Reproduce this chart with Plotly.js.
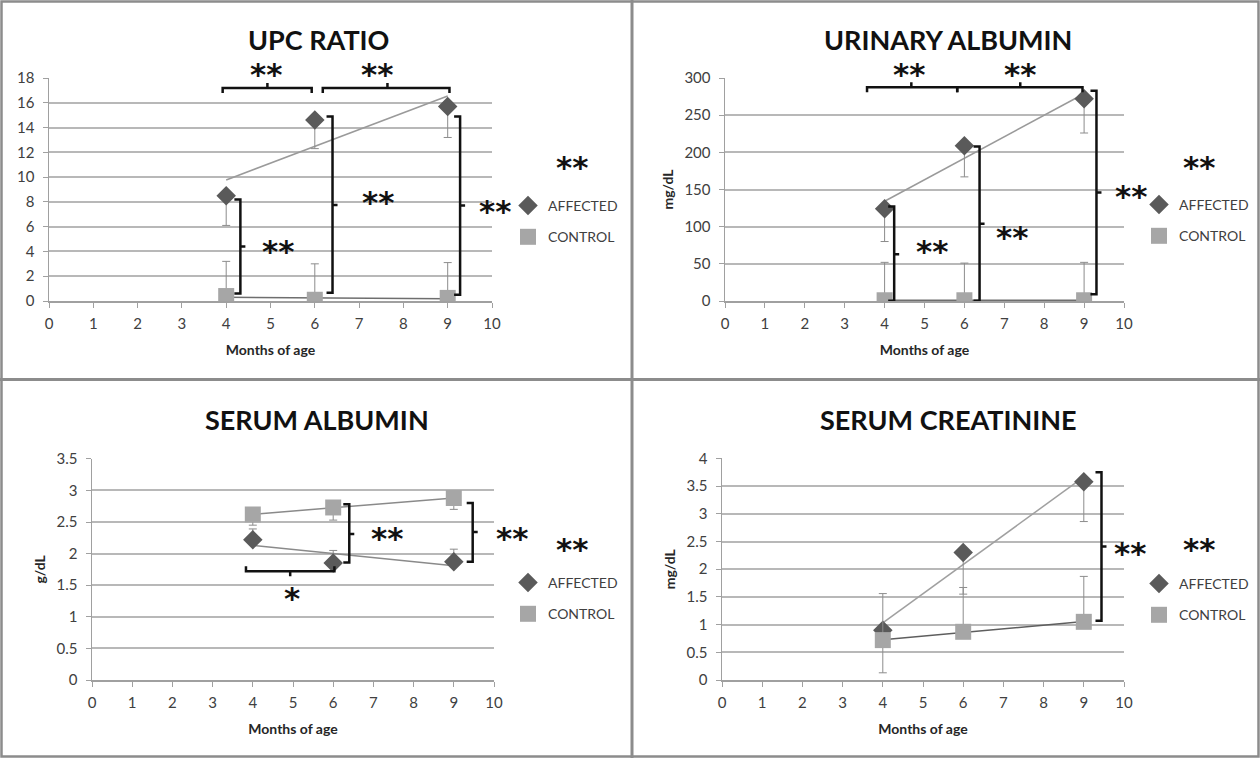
<!DOCTYPE html>
<html><head><meta charset="utf-8">
<script src="https://cdn.plot.ly/plotly-3.0.1.min.js"></script>
<style>html,body{margin:0;padding:0;background:#fff;} #chart{width:1260px;height:758px;}</style>
</head><body><div id="chart"></div>
<script>
// ---------------- DATA ----------------
const months = [4, 6, 9];
const xTicks = [0, 1, 2, 3, 4, 5, 6, 7, 8, 9, 10];
const seriesNames = ['AFFECTED', 'CONTROL'];
const panelTitles = ['UPC RATIO', 'URINARY ALBUMIN', 'SERUM ALBUMIN', 'SERUM CREATININE'];
const yTitles = ['', 'mg/dL', 'g/dL', 'mg/dL'];
const xTitle = 'Months of age';

const upcAffected = [8.5, 14.6, 15.7];
const upcAffectedErrMinus = [2.4, 2.3, 2.5];
const upcControl = [0.4, 0.1, 0.25];
const upcControlErrPlus = [2.8, 2.9, 2.85];

const ualbAffected = [124, 209, 272];
const ualbAffectedErrMinus = [44, 42, 46];
const ualbControl = [1, 1, 1];
const ualbControlErrPlus = [51, 50, 51];

const salbAffected = [2.22, 1.85, 1.87];
const salbAffectedErrPlus = [0.17, 0.2, 0.2];
const salbControl = [2.62, 2.73, 2.88];
const salbControlErrMinus = [0.17, 0.2, 0.18];

const screAffected = [0.9, 2.3, 3.58];
const screAffectedErrMinus = [0.77, 0.75, 0.72];
const screControl = [0.72, 0.87, 1.05];
const screControlErrPlus = [0.84, 0.8, 0.82];

// ---------------- LAYOUT CONFIG ----------------
const W = 1260, H = 758;
const FONT = 'Lato, "Open Sans", sans-serif';
const STAR_FONT = { family: 'DejaVu Sans', size: 31, color: '#111', weight: 'bold' };
const AFF_COLOR = '#5a5a5a', CTL_COLOR = '#a6a6a6', ERR_COLOR = '#8c8c8c';

const panels = [
  { px: [49, 492], py: [78, 301], yr: [0, 18], dtick: 2,
    aff: upcAffected, affErr: { minus: upcAffectedErrMinus },
    ctl: upcControl, ctlErr: { plus: upcControlErrPlus },
    titleXY: [318, 40], legendXY: [508, 190], extraStar: [572, 164],
    affTrendColor: '#9a9a9a', ctlTrendColor: '#6e6e6e',
    hBr: [{ x0: 3.92, x1: 5.93, y: 17.2, t: 4.93, dir: 1 }, { x0: 6.18, x1: 9.04, y: 17.2, t: 7.64, dir: 1 }],
    vBr: [{ x: 4.32, y0: 0.6, y1: 8.2, t: 4.4 }, { x: 6.4, y0: 0.67, y1: 14.9, t: 7.74 }, { x: 9.28, y0: 0.5, y1: 14.9, t: 7.7 }],
    stars: [{ x: 4.9, y: 18.6, s: '**' }, { x: 7.4, y: 18.6, s: '**' }, { x: 5.18, y: 4.3, s: '**' }, { x: 7.43, y: 8.2, s: '**' }, { x: 10.07, y: 7.5, s: '**' }] },
  { px: [725, 1124], py: [78, 301], yr: [0, 300], dtick: 50,
    aff: ualbAffected, affErr: { minus: ualbAffectedErrMinus },
    ctl: ualbControl, ctlErr: { plus: ualbControlErrPlus },
    titleXY: [948, 40], legendXY: [1139, 189], extraStar: [1199, 164],
    affTrendColor: '#9a9a9a', ctlTrendColor: '#6e6e6e',
    hBr: [{ x0: 3.56, x1: 5.82, y: 287.6, t: 4.67, dir: 1 }, { x0: 5.82, x1: 8.96, y: 287.6, t: 7.4, dir: 1 }],
    vBr: [{ x: 4.24, y0: 0.5, y1: 127, t: 63 }, { x: 6.38, y0: 0.5, y1: 208, t: 104 }, { x: 9.31, y0: 9, y1: 283, t: 146 }],
    stars: [{ x: 4.62, y: 310, s: '**' }, { x: 7.39, y: 310, s: '**' }, { x: 5.2, y: 71, s: '**' }, { x: 7.2, y: 90, s: '**' }, { x: 10.17, y: 145, s: '**' }] },
  { px: [92, 494], py: [458.8, 680], yr: [0, 3.5], dtick: 0.5,
    aff: salbAffected, affErr: { plus: salbAffectedErrPlus },
    ctl: salbControl, ctlErr: { minus: salbControlErrMinus },
    titleXY: [317, 419], legendXY: [508, 567], extraStar: [572, 546],
    affTrendColor: '#8a8a8a', ctlTrendColor: '#8a8a8a',
    hBr: [{ x0: 3.83, x1: 6.03, y: 1.72, t: 4.93, dir: -1 }],
    vBr: [{ x: 6.4, y0: 1.86, y1: 2.78, t: 2.31 }, { x: 9.47, y0: 1.87, y1: 2.8, t: 2.34 }],
    stars: [{ x: 7.35, y: 2.29, s: '**' }, { x: 10.45, y: 2.29, s: '**' }, { x: 4.98, y: 1.34, s: '*' }] },
  { px: [722, 1124], py: [458.4, 680], yr: [0, 4], dtick: 0.5,
    aff: screAffected, affErr: { minus: screAffectedErrMinus },
    ctl: screControl, ctlErr: { plus: screControlErrPlus },
    titleXY: [948, 419], legendXY: [1139, 568], extraStar: [1199, 546],
    affTrendColor: '#a0a0a0', ctlTrendColor: '#5e5e5e',
    hBr: [],
    vBr: [{ x: 9.44, y0: 1.07, y1: 3.75, t: 2.41 }],
    stars: [{ x: 10.16, y: 2.35, s: '**' }] }
];

function linFit(xs, ys) {
  const n = xs.length;
  const mx = xs.reduce((a, b) => a + b, 0) / n;
  const my = ys.reduce((a, b) => a + b, 0) / n;
  let sxy = 0, sxx = 0;
  for (let i = 0; i < n; i++) { sxy += (xs[i] - mx) * (ys[i] - my); sxx += (xs[i] - mx) * (xs[i] - mx); }
  const b = sxy / sxx, a = my - b * mx;
  return [xs[0], xs[n - 1]].map(x => a + b * x);
}
function errObj(e) {
  const zeros = months.map(() => 0);
  return { type: 'data', symmetric: false, array: e.plus || zeros, arrayminus: e.minus || zeros,
           color: ERR_COLOR, thickness: 1, width: 4 };
}
// axis-value -> paper fraction (for annotations that sit outside the axis ranges)
function paperX(p, x) { return (p.px[0] + x / 10 * (p.px[1] - p.px[0])) / W; }
function paperY(p, y) { return (H - (p.py[1] - (y - p.yr[0]) / (p.yr[1] - p.yr[0]) * (p.py[1] - p.py[0]))) / H; }

const traces = [];
const shapes = [];
const annotations = [];
const layout = {
  width: W, height: H, autosize: false,
  margin: { l: 0, r: 0, t: 0, b: 0 },
  paper_bgcolor: '#fff', plot_bgcolor: 'rgba(0,0,0,0)',
  showlegend: true, hovermode: false
};

panels.forEach((p, i) => {
  const k = i + 1;
  const xa = 'x' + (k === 1 ? '' : k), ya = 'y' + (k === 1 ? '' : k);
  const xKey = 'xaxis' + (k === 1 ? '' : k), yKey = 'yaxis' + (k === 1 ? '' : k);
  const legKey = 'legend' + (k === 1 ? '' : k);

  layout[xKey] = {
    domain: [p.px[0] / W, p.px[1] / W], anchor: ya, range: [0, 10], tickvals: xTicks,
    ticks: 'outside', ticklen: 5, tickwidth: 1, tickcolor: '#a0a0a0',
    showline: true, linecolor: '#a0a0a0', linewidth: 1.5,
    showgrid: false, zeroline: false, ticklabelstandoff: 3,
    tickfont: { family: FONT, size: 15, color: '#404040' },
    title: { text: xTitle, standoff: 14, font: { family: FONT, size: 14, color: '#262626', weight: 'bold' } },
    fixedrange: true
  };
  layout[yKey] = {
    domain: [(H - p.py[1]) / H, (H - p.py[0]) / H], anchor: xa, range: p.yr, dtick: p.dtick,
    ticks: 'outside', ticklen: 5, tickwidth: 1, tickcolor: '#a0a0a0',
    showline: true, linecolor: '#a0a0a0', linewidth: 1.5,
    showgrid: true, gridcolor: '#b8b8b8', gridwidth: 2, zeroline: false, ticklabelstandoff: 5,
    tickfont: { family: FONT, size: 15, color: '#404040' },
    title: { text: yTitles[i], standoff: 7, font: { family: FONT, size: 14, color: '#262626', weight: 'bold' } },
    fixedrange: true
  };
  layout[legKey] = {
    x: p.legendXY[0] / W, y: (H - p.legendXY[1]) / H, xanchor: 'left', yanchor: 'top',
    bgcolor: 'rgba(0,0,0,0)', borderwidth: 0, tracegroupgap: 10, traceorder: 'grouped',
    itemwidth: 30, font: { family: FONT, size: 14, color: '#404040' }
  };

  // trend lines
  traces.push({ x: [months[0], months[months.length - 1]], y: linFit(months, p.aff), xaxis: xa, yaxis: ya,
    mode: 'lines', line: { color: p.affTrendColor, width: 1.5 }, showlegend: false, hoverinfo: 'skip' });
  traces.push({ x: [months[0], months[months.length - 1]], y: linFit(months, p.ctl), xaxis: xa, yaxis: ya,
    mode: 'lines', line: { color: p.ctlTrendColor, width: 1.5 }, showlegend: false, hoverinfo: 'skip' });

  // data
  traces.push({ name: seriesNames[0], x: months, y: p.aff, xaxis: xa, yaxis: ya, mode: 'markers',
    marker: { symbol: 'diamond', size: 15, color: AFF_COLOR }, error_y: errObj(p.affErr),
    legend: legKey, legendgroup: 'a' + k });
  traces.push({ name: seriesNames[1], x: months, y: p.ctl, xaxis: xa, yaxis: ya, mode: 'markers',
    marker: { symbol: 'square', size: 16, color: CTL_COLOR }, error_y: errObj(p.ctlErr),
    legend: legKey, legendgroup: 'c' + k });

  // brackets
  p.vBr.forEach(b => shapes.push({ type: 'path', xref: xa, yref: ya, xsizemode: 'pixel', xanchor: b.x,
    path: `M -6,${b.y0} L 0,${b.y0} L 0,${b.y1} L -6,${b.y1} M 0,${b.t} L 5,${b.t}`,
    line: { color: '#111', width: 2.5 } }));
  p.hBr.forEach(b => shapes.push({ type: 'path', xref: xa, yref: ya, ysizemode: 'pixel', yanchor: b.y,
    path: `M ${b.x0},${-5 * b.dir} L ${b.x0},0 L ${b.x1},0 L ${b.x1},${-5 * b.dir} M ${b.t},0 L ${b.t},${5 * b.dir}`,
    line: { color: '#111', width: 2.5 } }));

  // significance stars
  p.stars.forEach(s => annotations.push({ xref: 'paper', yref: 'paper', x: paperX(p, s.x), y: paperY(p, s.y),
    text: s.s, showarrow: false, xanchor: 'center', yanchor: 'middle', yshift: -3, font: STAR_FONT }));
  annotations.push({ xref: 'paper', yref: 'paper', x: p.extraStar[0] / W, y: (H - p.extraStar[1]) / H,
    text: '**', showarrow: false, xanchor: 'center', yanchor: 'middle', yshift: -3, font: STAR_FONT });

  // panel title
  annotations.push({ xref: 'paper', yref: 'paper', x: p.titleXY[0] / W, y: (H - p.titleXY[1]) / H,
    text: panelTitles[i], showarrow: false, xanchor: 'center', yanchor: 'middle',
    font: { family: FONT, size: 27, color: '#111', weight: 'bold' } });
});

// panel borders
const bc = '#8c8c8c';
shapes.push({ type: 'rect', xref: 'paper', yref: 'paper', x0: 1.5 / W, x1: (W - 1.5) / W, y0: 1.5 / H, y1: (H - 1.5) / H, line: { color: bc, width: 2.5 } });
shapes.push({ type: 'line', xref: 'paper', yref: 'paper', x0: 632 / W, x1: 632 / W, y0: 0, y1: 1, line: { color: bc, width: 3 } });
shapes.push({ type: 'line', xref: 'paper', yref: 'paper', x0: 0, x1: 1, y0: (H - 379.5) / H, y1: (H - 379.5) / H, line: { color: bc, width: 3 } });

layout.shapes = shapes;
layout.annotations = annotations;

Plotly.newPlot('chart', traces, layout, { displayModeBar: false, staticPlot: true });
</script>
</body></html>
